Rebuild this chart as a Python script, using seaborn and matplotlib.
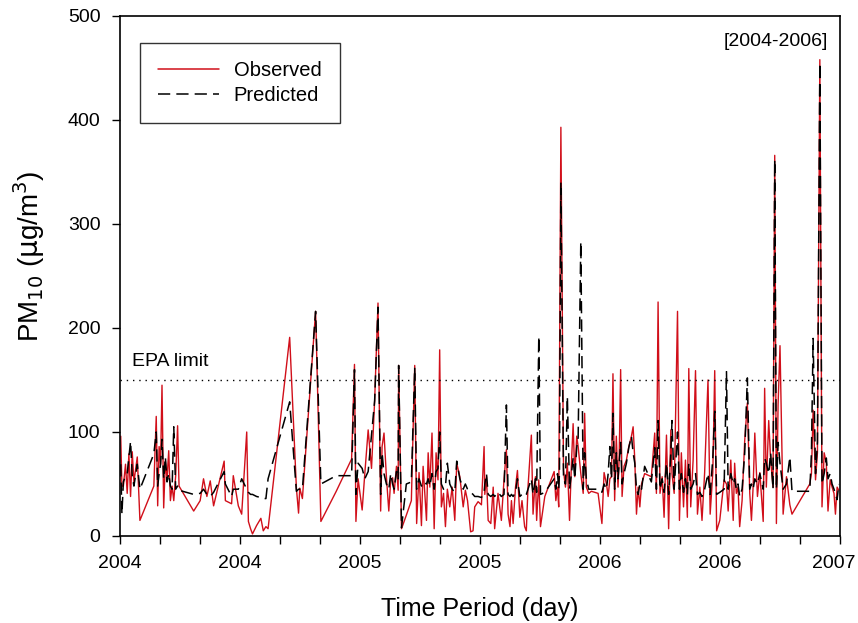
import matplotlib
matplotlib.use("Agg")
import matplotlib.pyplot as plt
import matplotlib.transforms as mtransforms
import seaborn as sns
import pandas as pd
from matplotlib.ticker import MultipleLocator, FixedLocator

# ---- data (decimal year, observed, predicted) ----
time_year = [
    2004.003, 2004.008, 2004.014, 2004.023, 2004.030, 2004.037, 2004.044, 2004.051, 2004.058, 2004.072,
    2004.083, 2004.141, 2004.151, 2004.157, 2004.163, 2004.169, 2004.175, 2004.182, 2004.189, 2004.196,
    2004.203, 2004.210, 2004.217, 2004.224, 2004.232, 2004.240, 2004.246, 2004.307, 2004.334, 2004.348,
    2004.362, 2004.376, 2004.390, 2004.434, 2004.439, 2004.465, 2004.472, 2004.493, 2004.507, 2004.528,
    2004.535, 2004.544, 2004.552, 2004.569, 2004.587, 2004.597, 2004.608, 2004.617, 2004.707, 2004.735,
    2004.744, 2004.749, 2004.760, 2004.815, 2004.837, 2004.901, 2004.965, 2004.977, 2004.983,
    2004.992, 2005.009, 2005.020, 2005.034, 2005.048, 2005.061, 2005.075, 2005.086, 2005.092, 2005.100,
    2005.110, 2005.120, 2005.128, 2005.136, 2005.142, 2005.152, 2005.159, 2005.161, 2005.173, 2005.193,
    2005.214, 2005.228, 2005.236, 2005.246, 2005.256, 2005.263, 2005.277, 2005.284, 2005.291, 2005.300,
    2005.309, 2005.317, 2005.325, 2005.332, 2005.339, 2005.348, 2005.356, 2005.364, 2005.374, 2005.384,
    2005.395, 2005.403, 2005.416, 2005.430, 2005.439, 2005.448, 2005.461, 2005.471, 2005.478,
    2005.492, 2005.506, 2005.517, 2005.520, 2005.527, 2005.534, 2005.545, 2005.555, 2005.561, 2005.575,
    2005.589, 2005.600, 2005.610, 2005.617, 2005.625, 2005.631, 2005.638, 2005.648, 2005.656, 2005.666,
    2005.675, 2005.686, 2005.693, 2005.700, 2005.714, 2005.721, 2005.731, 2005.736, 2005.745, 2005.752,
    2005.770, 2005.809, 2005.816, 2005.823, 2005.828, 2005.831, 2005.837, 2005.848, 2005.856, 2005.864,
    2005.873, 2005.881, 2005.888, 2005.895, 2005.903, 2005.909, 2005.920, 2005.930, 2005.936, 2005.943,
    2005.953, 2005.964, 2005.992, 2006.008,
    2006.017, 2006.027, 2006.034, 2006.041, 2006.048, 2006.054, 2006.061, 2006.068, 2006.075, 2006.080,
    2006.086, 2006.092, 2006.100, 2006.110, 2006.120, 2006.131, 2006.138, 2006.145, 2006.152, 2006.159,
    2006.166, 2006.173, 2006.186, 2006.214, 2006.228, 2006.235, 2006.242, 2006.250, 2006.259, 2006.267,
    2006.277, 2006.286, 2006.295, 2006.300, 2006.309, 2006.323, 2006.331, 2006.339, 2006.348, 2006.356,
    2006.364, 2006.370, 2006.378, 2006.388, 2006.398, 2006.406, 2006.416, 2006.425, 2006.436, 2006.450,
    2006.459, 2006.470, 2006.478, 2006.486, 2006.499,
    2006.517, 2006.527, 2006.534, 2006.545, 2006.555, 2006.561, 2006.568, 2006.575, 2006.582, 2006.592,
    2006.603, 2006.614, 2006.624, 2006.631, 2006.638, 2006.645, 2006.656, 2006.666, 2006.680, 2006.686,
    2006.693, 2006.703, 2006.711, 2006.721, 2006.728, 2006.735, 2006.742, 2006.750, 2006.763, 2006.777,
    2006.791, 2006.800, 2006.874, 2006.881, 2006.888, 2006.898, 2006.906, 2006.916, 2006.925, 2006.934,
    2006.943, 2006.950, 2006.959, 2006.967, 2006.975, 2006.981, 2006.988, 2006.995,
]

observed = [
    96, 48, 48, 69, 41, 79, 38, 81, 52, 76,
    15, 48, 115, 29, 86, 69, 145, 27, 72, 55,
    82, 34, 48, 34, 58, 106, 48, 24, 34, 55,
    38, 53, 29, 72, 34, 31, 58, 29, 21, 100,
    14, 7, 2, 10, 17, 5, 9, 7, 191, 46,
    22, 46, 36, 216, 14, 43, 74, 165, 14,
    55, 25, 60, 102, 65, 130, 224, 24, 86, 99,
    57, 24, 54, 56, 41, 67, 44, 164, 7, 20,
    34, 164, 12, 61, 10, 67, 15, 80, 47, 99,
    7, 80, 54, 179, 28, 41, 9, 45, 28, 47,
    15, 70, 57, 28, 44, 34, 4, 5, 28,
    33, 30, 86, 40, 57, 15, 12, 47, 7, 41,
    15, 54, 83, 21, 9, 34, 12, 47, 63, 18,
    34, 9, 5, 47, 97, 21, 57, 15, 54, 9,
    38, 62, 34, 47, 28, 150, 393, 63, 47, 70,
    15, 70, 108, 57, 96, 86, 60, 41, 118, 47,
    41, 43, 41, 12,
    61, 50, 38, 55, 57, 156, 34, 96, 47, 76,
    160, 38, 67, 73, 86, 96, 105, 73, 21, 47,
    28, 50, 60, 57, 99, 41, 225, 41, 57, 18,
    97, 7, 102, 60, 41, 216, 15, 80, 28, 73,
    18, 161, 28, 73, 159, 21, 47, 15, 61, 150,
    21, 61, 159, 5, 15,
    54, 50, 24, 73, 15, 70, 41, 47, 9, 34,
    92, 128, 41, 15, 47, 99, 38, 61, 14, 142,
    47, 111, 73, 47, 366, 12, 126, 183, 21, 57,
    30, 21, 50, 60, 121, 54, 80, 458, 28, 80,
    70, 24, 54, 47, 41, 21, 47, 44,
]

predicted = [
    69, 21, 52, 58, 60, 76, 91, 58, 48, 69,
    45, 79, 100, 48, 60, 69, 93, 55, 76, 52,
    60, 48, 45, 105, 45, 48, 44, 40, 41, 45,
    40, 38, 42, 62, 50, 38, 45, 45, 55, 45,
    42, 40, 40, 38, 37, 36, 36, 55, 129, 43,
    45, 45, 45, 216, 50, 58, 58, 160, 40,
    70, 65, 55, 62, 97, 130, 220, 40, 80, 60,
    50, 45, 60, 50, 45, 62, 55, 164, 8, 50,
    52, 162, 45, 55, 48, 52, 50, 55, 48, 60,
    45, 62, 65, 100, 50, 45, 48, 70, 50, 45,
    42, 72, 55, 45, 50, 45, 42, 40, 38,
    38, 37, 42, 50, 60, 40, 38, 40, 38, 42,
    38, 40, 126, 40, 38, 40, 38, 42, 55, 38,
    40, 38, 40, 45, 55, 40, 55, 42, 192, 40,
    42, 55, 45, 60, 45, 60, 340, 55, 50, 134,
    45, 60, 75, 55, 85, 95, 283, 45, 80, 55,
    45, 45, 45, 42,
    50, 45, 60, 86, 55, 118, 45, 80, 55, 70,
    90, 50, 60, 70, 85, 96, 80, 70, 45, 40,
    50, 45, 67, 52, 85, 45, 111, 45, 55, 42,
    70, 40, 80, 111, 45, 100, 45, 60, 42, 55,
    40, 70, 45, 50, 60, 40, 42, 38, 45, 60,
    40, 75, 120, 40, 42,
    45, 158, 45, 60, 50, 55, 45, 50, 38, 45,
    80, 152, 45, 50, 45, 55, 50, 60, 45, 75,
    70, 60, 80, 45, 362, 45, 90, 70, 45, 50,
    76, 43, 43, 80, 190, 60, 90, 455, 50, 60,
    75, 55, 60, 50, 45, 40, 35, 50,
]

x_ticks = [2004.0, 2004.5, 2005.0, 2005.5, 2006.0, 2006.5, 2007.0]
x_tick_labels = ["2004", "2004", "2005", "2005", "2006", "2006", "2007"]
y_ticks = [0, 100, 200, 300, 400, 500]
epa_limit = 150

df = pd.DataFrame({"time": time_year, "Observed": observed, "Predicted": predicted})

sns.set_style("ticks")
plt.rcParams["font.family"] = ["Liberation Sans", "DejaVu Sans"]
for key in ["text.color", "axes.labelcolor", "xtick.color", "ytick.color",
            "xtick.labelcolor", "ytick.labelcolor"]:
    plt.rcParams[key] = "black"

fig = plt.figure(figsize=(8.58, 6.23), dpi=100)
ax = fig.add_axes([120 / 858, 1 - 536 / 623, 720 / 858, 520 / 623])

red = "#d10f1a"
sns.lineplot(data=df, x="time", y="Observed", ax=ax, color=red, lw=1.0,
             estimator=None, sort=False, label="Observed")
sns.lineplot(data=df, x="time", y="Predicted", ax=ax, color="black", lw=1.1,
             estimator=None, sort=False, label="Predicted", dashes=False)
ax.lines[-1].set_dashes((8, 4))

ax.axhline(epa_limit, color="black", lw=1.0, ls=(0, (1, 3.5)))
ax.text(2004.05, 160, "EPA limit", fontsize=14, ha="left", va="bottom")
ax.text(2006.95, 484, "[2004-2006]", fontsize=14, ha="right", va="top")

ax.set_xlim(2004, 2007)
ax.set_ylim(0, 500)
ax.xaxis.set_major_locator(FixedLocator(x_ticks))
ax.set_xticklabels(x_tick_labels)
ax.xaxis.set_minor_locator(MultipleLocator(1 / 6))
ax.set_yticks(y_ticks)
ax.tick_params(axis="both", which="major", direction="out", length=6, width=1,
               labelsize=14, pad=8)
ax.tick_params(axis="x", which="minor", direction="out", length=6, width=1)
ax.tick_params(axis="y", which="minor", left=False)

# nudge the last x tick label slightly left so it stays inside the figure
last = ax.get_xticklabels()[-1]
last.set_transform(last.get_transform() +
                   mtransforms.ScaledTranslation(-6 / 100, 0, fig.dpi_scale_trans))

for s in ax.spines.values():
    s.set_linewidth(1.2)
    s.set_color("black")

ax.set_xlabel("Time Period (day)", fontsize=18, labelpad=18)
ax.set_ylabel("PM$_{10}$ ($\\mathrm{\\mu}$g/m$^3$)", fontsize=20, labelpad=8)
ax.yaxis.set_label_coords(-0.102, 0.537)

leg = ax.legend(loc="upper left", bbox_to_anchor=(20 / 720, 1 - 27 / 520),
                borderaxespad=0, fontsize=14.5,
                frameon=True, fancybox=False, edgecolor="black",
                handlelength=3.0, handletextpad=0.75, borderpad=0.9,
                labelspacing=0.3)
leg.get_frame().set_linewidth(1.0)
for h in leg.get_lines():
    h.set_linewidth(1.1)

fig.savefig("out.png", dpi=100, facecolor="white")
